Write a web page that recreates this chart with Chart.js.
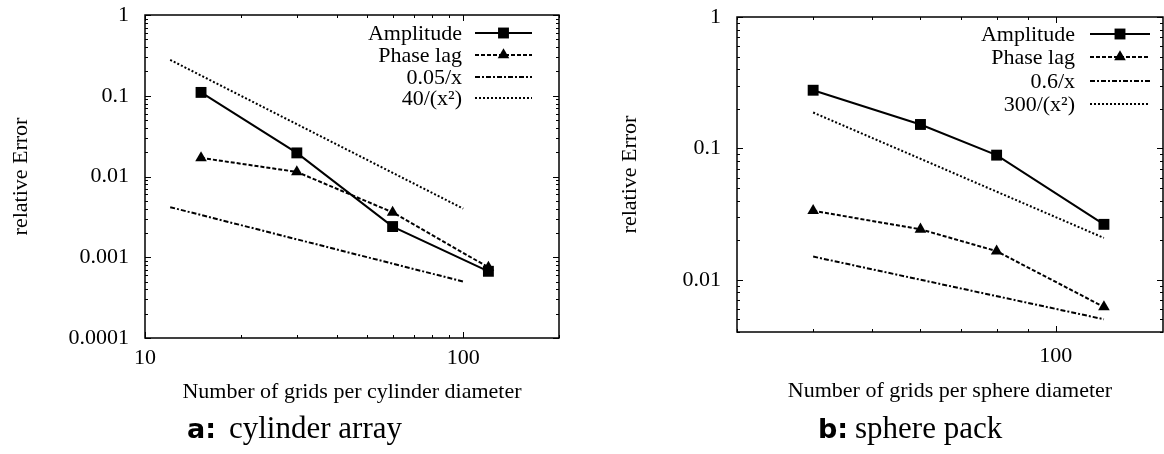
<!DOCTYPE html>
<html><head><meta charset="utf-8">
<script src="https://cdn.jsdelivr.net/npm/chart.js@4.4.1/dist/chart.umd.min.js"></script>
<style>
html,body{margin:0;padding:0;background:#fff;width:1164px;height:454px;overflow:hidden;position:relative}
canvas{position:absolute;top:0}
#cA{left:0}
#cB{left:580px}
.cap{position:absolute;white-space:nowrap;color:#000}
.lab{font-family:'DejaVu Sans',sans-serif;font-weight:bold;font-size:27px;line-height:27px}
.txt{font-family:'Liberation Serif',serif;font-size:31px;line-height:31px}
</style></head><body>
<canvas id="cA" width="580" height="454"></canvas>
<canvas id="cB" width="591" height="454"></canvas>
<div class="cap lab" style="left:187px;top:415px">a:</div>
<div class="cap txt" style="left:229px;top:412px">cylinder array</div>
<div class="cap lab" style="left:818px;top:415px">b:</div>
<div class="cap txt" style="left:855px;top:412px">sphere pack</div>
<script>
// ---------- data ----------
const gridsA = [15, 30, 60, 120];
const amplitudeA = [0.110, 0.0196, 0.0024, 0.00067];
const phaseLagA = [0.0170, 0.0114, 0.0036, 0.00075];
const fitXA = [12, 100];
const fit1A = [0.00417, 0.0005];   // 0.05/x
const fit2A = [0.278, 0.004];      // 40/(x^2)
const labelsA = ['Amplitude', 'Phase lag', '0.05/x', '40/(x\u00B2)'];

const gridsB = [40, 60, 80, 120];
const amplitudeB = [0.277, 0.152, 0.0888, 0.0264];
const phaseLagB = [0.0335, 0.0242, 0.0165, 0.0062];
const fitXB = [40, 120];
const fit1B = [0.015, 0.005];      // 0.6/x
const fit2B = [0.1875, 0.0208];    // 300/(x^2)
const labelsB = ['Amplitude', 'Phase lag', '0.6/x', '300/(x\u00B2)'];

const xTicksA = [10, 100];
const xTickLabelsA = ['10', '100'];
const yTicksA = [0.0001, 0.001, 0.01, 0.1, 1];
const yTickLabelsA = ['0.0001', '0.001', '0.01', '0.1', '1'];
const xTicksB = [100];
const xTickLabelsB = ['100'];
const yTicksB = [0.01, 0.1, 1];
const yTickLabelsB = ['0.01', '0.1', '1'];

const xTitleA = 'Number of grids per cylinder diameter';
const xTitleB = 'Number of grids per sphere diameter';
const yTitle = 'relative Error';

// ---------- rendering ----------
const SERIF = "'Liberation Serif','Times New Roman',serif";

function minorTicks(min, max) {
  const out = [];
  for (let d = Math.floor(Math.log10(min)); d <= Math.ceil(Math.log10(max)); d++) {
    for (let k = 2; k <= 9; k++) {
      const v = k * Math.pow(10, d);
      if (v >= min * 0.999 && v <= max * 1.001) out.push(v);
    }
  }
  return out;
}

function drawMarker(ctx, style, r, x, y) {
  ctx.beginPath();
  if (style === 'rect') {
    const s = r * Math.SQRT1_2;
    ctx.rect(x - s, y - s, 2 * s, 2 * s);
  } else if (style === 'triangle') {
    ctx.moveTo(x, y - r);
    ctx.lineTo(x + 0.8660254 * r, y + 0.5 * r);
    ctx.lineTo(x - 0.8660254 * r, y + 0.5 * r);
    ctx.closePath();
  }
  ctx.fill();
}

const framePlugin = {
  id: 'frame',
  afterDatasetsDraw(chart, args, o) {
    const {ctx, chartArea: {left, right, top, bottom}, scales: {x, y}} = chart;
    ctx.save();
    ctx.strokeStyle = '#000';
    ctx.lineWidth = 1;
    ctx.setLineDash([]);
    const xs = [...o.xMajor.map(v => [v, 6]), ...minorTicks(x.min, x.max).map(v => [v, 3])];
    for (const [v, len] of xs) {
      const p = Math.round(x.getPixelForValue(v)) + 0.5;
      if (p < left - 0.5 || p > right + 0.5) continue;
      ctx.beginPath();
      ctx.moveTo(p, bottom); ctx.lineTo(p, bottom - len);
      ctx.moveTo(p, top); ctx.lineTo(p, top + len);
      ctx.stroke();
    }
    const ys = [...o.yMajor.map(v => [v, 6]), ...minorTicks(y.min, y.max).map(v => [v, 3])];
    for (const [v, len] of ys) {
      const p = Math.round(y.getPixelForValue(v)) + 0.5;
      if (p < top - 0.5 || p > bottom + 0.5) continue;
      ctx.beginPath();
      ctx.moveTo(left, p); ctx.lineTo(left + len, p);
      ctx.moveTo(right, p); ctx.lineTo(right - len, p);
      ctx.stroke();
    }
    ctx.lineWidth = 1.5;
    ctx.strokeRect(left, top, right - left, bottom - top);

    // legend (gnuplot style)
    ctx.font = '22px ' + SERIF;
    ctx.textAlign = 'right';
    ctx.textBaseline = 'middle';
    ctx.fillStyle = '#000';
    chart.data.datasets.forEach((ds, i) => {
      const ry = o.rows[i];
      ctx.fillText(ds.label, o.textRight, ry + 1);
      ctx.lineWidth = ds.borderWidth;
      ctx.setLineDash(ds.borderDash || []);
      ctx.beginPath();
      ctx.moveTo(o.x0, ry); ctx.lineTo(o.x1, ry);
      ctx.stroke();
      ctx.setLineDash([]);
      if (ds.pointRadius > 0) drawMarker(ctx, ds.pointStyle, ds.pointRadius, (o.x0 + o.x1) / 2, ry);
    });
    ctx.restore();
  }
};

function pts(X, Y) { return X.map((v, i) => ({x: v, y: Y[i]})); }

function makeDatasets(xs, amp, ph, fx, f1, f2, labels) {
  const base = {borderColor: '#000', backgroundColor: '#000', borderWidth: 2, tension: 0, fill: false, pointBorderWidth: 0, pointHoverRadius: 0};
  return [
    {...base, label: labels[0], data: pts(xs, amp), borderDash: [], pointStyle: 'rect', pointRadius: 7.7},
    {...base, label: labels[1], data: pts(xs, ph), borderDash: [4, 2], pointStyle: 'triangle', pointRadius: 6.7},
    {...base, label: labels[2], data: pts(fx, f1), borderDash: [5, 2, 2, 2], pointRadius: 0},
    {...base, label: labels[3], data: pts(fx, f2), borderDash: [2, 2], pointRadius: 0}
  ];
}

function zeroPad(s) { s.paddingTop = 0; s.paddingBottom = 0; s.paddingLeft = 0; s.paddingRight = 0; }

function makeChart(id, c) {
  return new Chart(document.getElementById(id), {
    type: 'line',
    data: {datasets: c.datasets},
    options: {
      responsive: false, animation: false, events: [],
      layout: {padding: {top: c.top, right: c.padRight, left: 0, bottom: 0}},
      plugins: {legend: {display: false}, tooltip: {enabled: false}, frame: c.frame},
      scales: {
        x: {
          type: 'logarithmic', position: 'bottom', min: c.xmin, max: c.xmax,
          grid: {display: false, drawTicks: false}, border: {display: false},
          afterBuildTicks: s => { s.ticks = c.xTicks.map(v => ({value: v})); },
          afterFit: s => { s.height = c.xH; zeroPad(s); },
          ticks: {autoSkip: false, maxRotation: 0, padding: c.xPad, color: '#000',
            font: {family: SERIF, size: 22, lineHeight: 1.2},
            callback: (v, i) => c.xLabels[i]},
          title: {display: true, text: c.xTitle, color: '#000',
            font: {family: SERIF, size: 22, lineHeight: 1.2}, padding: {top: 0, bottom: c.xTitlePad}}
        },
        y: {
          type: 'logarithmic', position: 'left', min: c.ymin, max: c.ymax,
          grid: {display: false, drawTicks: false}, border: {display: false},
          afterBuildTicks: s => { s.ticks = c.yTicks.map(v => ({value: v})); },
          afterFit: s => { s.width = c.yW; zeroPad(s); },
          ticks: {autoSkip: false, padding: 16, color: '#000',
            font: {family: SERIF, size: 22, lineHeight: 1.2},
            callback: (v, i) => c.yLabels[i]},
          title: {display: true, text: yTitle, color: '#000',
            font: {family: SERIF, size: 22, lineHeight: 1.2}, padding: {top: c.yTitlePad, bottom: 0}}
        }
      }
    },
    plugins: [framePlugin]
  });
}

makeChart('cA', {
  datasets: makeDatasets(gridsA, amplitudeA, phaseLagA, fitXA, fit1A, fit2A, labelsA),
  xmin: 10, xmax: 200, ymin: 0.0001, ymax: 1,
  xTicks: xTicksA, xLabels: xTickLabelsA, yTicks: yTicksA, yLabels: yTickLabelsA,
  xTitle: xTitleA, top: 15, padRight: 21, yW: 145, xH: 116, xPad: 7,
  xTitlePad: 49, yTitlePad: 8,
  frame: {xMajor: xTicksA, yMajor: yTicksA, textRight: 462, x0: 475, x1: 532, rows: [33, 55, 77, 98]}
});

makeChart('cB', {
  datasets: makeDatasets(gridsB, amplitudeB, phaseLagB, fitXB, fit1B, fit2B, labelsB),
  xmin: 30, xmax: 150, ymin: 0.004, ymax: 1,
  xTicks: xTicksB, xLabels: xTickLabelsB, yTicks: yTicksB, yLabels: yTickLabelsB,
  xTitle: xTitleB, top: 17, padRight: 8, yW: 157, xH: 122, xPad: 11,
  xTitlePad: 50, yTitlePad: 37,
  frame: {xMajor: xTicksB, yMajor: yTicksB, textRight: 495, x0: 510, x1: 570, rows: [34, 57, 81, 104]}
});
</script>
</body></html>
